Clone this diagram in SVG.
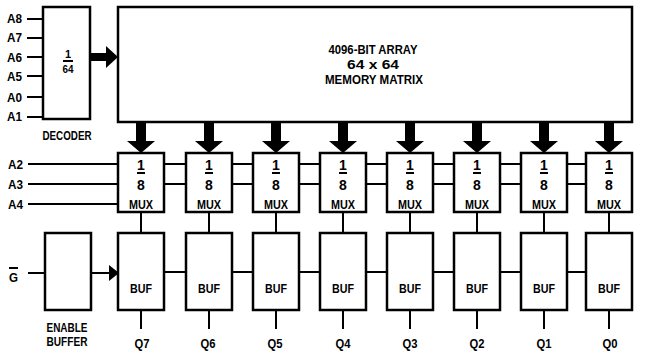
<svg xmlns="http://www.w3.org/2000/svg" width="652" height="356" viewBox="0 0 652 356">
<style>
.box{fill:#fff;stroke:#000;stroke-width:2.5}
.ln{stroke:#000;stroke-width:2;fill:none}
.ar{fill:#000;stroke:none}
text{font-family:"Liberation Sans",Arial,sans-serif;font-weight:bold;fill:#000}
.lb{font-size:13px}
.c{text-anchor:middle}
.fr{font-size:14px;text-anchor:middle}
</style>
<rect width="652" height="356" fill="#fff"/>
<g id="connectors">
<line class="ln" x1="27" y1="19" x2="43" y2="19"/>
<line class="ln" x1="27" y1="38" x2="43" y2="38"/>
<line class="ln" x1="27" y1="57" x2="43" y2="57"/>
<line class="ln" x1="27" y1="76" x2="43" y2="76"/>
<line class="ln" x1="27" y1="97" x2="43" y2="97"/>
<line class="ln" x1="27" y1="117" x2="43" y2="117"/>
<polygon class="ar" points="90,53 106,53 106,46 118,57 106,68 106,61 90,61"/>
<line class="ln" x1="28" y1="164" x2="118" y2="164"/>
<line class="ln" x1="28" y1="184" x2="118" y2="184"/>
<line class="ln" x1="28" y1="204" x2="118" y2="204"/>
<g id="mux-bus">
<path class="ln" d="M164 164H186M164 184H186M232 164H253M232 184H253M299 164H320M299 184H320M366 164H387M366 184H387M433 164H454M433 184H454M500 164H521M500 184H521M567 164H586M567 184H586"/>
</g>
<g id="down-arrows">
<polygon class="ar" points="136,122 146,122 146,141 155,141 141,153 127,141 136,141"/>
<polygon class="ar" points="204,122 214,122 214,141 223,141 209,153 195,141 204,141"/>
<polygon class="ar" points="271,122 281,122 281,141 290,141 276,153 262,141 271,141"/>
<polygon class="ar" points="338,122 348,122 348,141 357,141 343,153 329,141 338,141"/>
<polygon class="ar" points="405,122 415,122 415,141 424,141 410,153 396,141 405,141"/>
<polygon class="ar" points="472,122 482,122 482,141 491,141 477,153 463,141 472,141"/>
<polygon class="ar" points="539,122 549,122 549,141 558,141 544,153 530,141 539,141"/>
<polygon class="ar" points="604,122 614,122 614,141 623,141 609,153 595,141 604,141"/>
</g>
<path class="ln" d="M141 212V233M209 212V233M276 212V233M343 212V233M410 212V233M477 212V233M544 212V233M609 212V233"/>
<path class="ln" d="M141 310V329M209 310V329M276 310V329M343 310V329M410 310V329M477 310V329M544 310V329M609 310V329"/>
<path class="ln" d="M164 272H186M232 272H253M299 272H320M366 272H387M433 272H454M500 272H521M567 272H586"/>
<line class="ln" x1="28" y1="273" x2="45" y2="273"/>
<line class="ln" x1="91" y1="273" x2="110" y2="273"/>
<polygon class="ar" points="109,265 119,273 109,281"/>
</g>
<g id="decoder">
<rect class="box" x="43" y="7" width="47" height="112"/>
<text class="c" x="68" y="58" style="font-size:11px">1</text>
<line class="ln" x1="63" y1="61" x2="73" y2="61" stroke-width="1.5"/>
<text class="c" x="68" y="73" style="font-size:11px" textLength="11" lengthAdjust="spacingAndGlyphs">64</text>
<text class="lb c" x="67" y="140" textLength="49" lengthAdjust="spacingAndGlyphs">DECODER</text>
</g>
<g id="addr-labels">
<text class="lb" x="7" y="23" textLength="15" lengthAdjust="spacingAndGlyphs">A8</text>
<text class="lb" x="7" y="42" textLength="15" lengthAdjust="spacingAndGlyphs">A7</text>
<text class="lb" x="7" y="62" textLength="15" lengthAdjust="spacingAndGlyphs">A6</text>
<text class="lb" x="7" y="81" textLength="15" lengthAdjust="spacingAndGlyphs">A5</text>
<text class="lb" x="7" y="102" textLength="15" lengthAdjust="spacingAndGlyphs">A0</text>
<text class="lb" x="7" y="121" textLength="15" lengthAdjust="spacingAndGlyphs">A1</text>
<text class="lb" x="8" y="169" textLength="15" lengthAdjust="spacingAndGlyphs">A2</text>
<text class="lb" x="8" y="189" textLength="15" lengthAdjust="spacingAndGlyphs">A3</text>
<text class="lb" x="8" y="209" textLength="15" lengthAdjust="spacingAndGlyphs">A4</text>
</g>
<g id="array">
<rect class="box" x="118" y="7" width="514" height="115"/>
<text class="lb c" x="373" y="54" textLength="89" lengthAdjust="spacingAndGlyphs">4096-BIT ARRAY</text>
<text class="lb c" x="373" y="69" textLength="52" lengthAdjust="spacingAndGlyphs">64 x 64</text>
<text class="lb c" x="374" y="84" textLength="98" lengthAdjust="spacingAndGlyphs">MEMORY MATRIX</text>
</g>
<g id="muxes">
<g id="mux7"><rect class="box" x="118" y="153" width="46" height="59"/><text class="fr" x="141" y="170">1</text><line class="ln" x1="137" y1="173" x2="145" y2="173" stroke-width="1.5"/><text class="fr" x="141" y="190">8</text><text class="lb c" x="141" y="209" textLength="24" lengthAdjust="spacingAndGlyphs">MUX</text></g>
<g id="mux6"><rect class="box" x="186" y="153" width="46" height="59"/><text class="fr" x="209" y="170">1</text><line class="ln" x1="205" y1="173" x2="213" y2="173" stroke-width="1.5"/><text class="fr" x="209" y="190">8</text><text class="lb c" x="209" y="209" textLength="24" lengthAdjust="spacingAndGlyphs">MUX</text></g>
<g id="mux5"><rect class="box" x="253" y="153" width="46" height="59"/><text class="fr" x="276" y="170">1</text><line class="ln" x1="272" y1="173" x2="280" y2="173" stroke-width="1.5"/><text class="fr" x="276" y="190">8</text><text class="lb c" x="276" y="209" textLength="24" lengthAdjust="spacingAndGlyphs">MUX</text></g>
<g id="mux4"><rect class="box" x="320" y="153" width="46" height="59"/><text class="fr" x="343" y="170">1</text><line class="ln" x1="339" y1="173" x2="347" y2="173" stroke-width="1.5"/><text class="fr" x="343" y="190">8</text><text class="lb c" x="343" y="209" textLength="24" lengthAdjust="spacingAndGlyphs">MUX</text></g>
<g id="mux3"><rect class="box" x="387" y="153" width="46" height="59"/><text class="fr" x="410" y="170">1</text><line class="ln" x1="406" y1="173" x2="414" y2="173" stroke-width="1.5"/><text class="fr" x="410" y="190">8</text><text class="lb c" x="410" y="209" textLength="24" lengthAdjust="spacingAndGlyphs">MUX</text></g>
<g id="mux2"><rect class="box" x="454" y="153" width="46" height="59"/><text class="fr" x="477" y="170">1</text><line class="ln" x1="473" y1="173" x2="481" y2="173" stroke-width="1.5"/><text class="fr" x="477" y="190">8</text><text class="lb c" x="477" y="209" textLength="24" lengthAdjust="spacingAndGlyphs">MUX</text></g>
<g id="mux1"><rect class="box" x="521" y="153" width="46" height="59"/><text class="fr" x="544" y="170">1</text><line class="ln" x1="540" y1="173" x2="548" y2="173" stroke-width="1.5"/><text class="fr" x="544" y="190">8</text><text class="lb c" x="544" y="209" textLength="24" lengthAdjust="spacingAndGlyphs">MUX</text></g>
<g id="mux0"><rect class="box" x="586" y="153" width="46" height="59"/><text class="fr" x="609" y="170">1</text><line class="ln" x1="605" y1="173" x2="613" y2="173" stroke-width="1.5"/><text class="fr" x="609" y="190">8</text><text class="lb c" x="609" y="209" textLength="24" lengthAdjust="spacingAndGlyphs">MUX</text></g>
</g>
<g id="enable">
<rect class="box" x="45" y="233" width="46" height="77"/>
<text class="lb c" x="67" y="332" textLength="41" lengthAdjust="spacingAndGlyphs">ENABLE</text>
<text class="lb c" x="67" y="346" textLength="41" lengthAdjust="spacingAndGlyphs">BUFFER</text>
<text class="lb" x="9" y="282" textLength="9" lengthAdjust="spacingAndGlyphs">G</text>
<line class="ln" x1="9" y1="268" x2="18" y2="268" stroke-width="1.5"/>
</g>
<g id="bufs">
<g id="buf7"><rect class="box" x="118" y="233" width="46" height="77"/><text class="lb c" x="141" y="293" textLength="22" lengthAdjust="spacingAndGlyphs">BUF</text><text class="lb c" x="142" y="348" textLength="15" lengthAdjust="spacingAndGlyphs">Q7</text></g>
<g id="buf6"><rect class="box" x="186" y="233" width="46" height="77"/><text class="lb c" x="209" y="293" textLength="22" lengthAdjust="spacingAndGlyphs">BUF</text><text class="lb c" x="208" y="348" textLength="15" lengthAdjust="spacingAndGlyphs">Q6</text></g>
<g id="buf5"><rect class="box" x="253" y="233" width="46" height="77"/><text class="lb c" x="276" y="293" textLength="22" lengthAdjust="spacingAndGlyphs">BUF</text><text class="lb c" x="275" y="348" textLength="15" lengthAdjust="spacingAndGlyphs">Q5</text></g>
<g id="buf4"><rect class="box" x="320" y="233" width="46" height="77"/><text class="lb c" x="343" y="293" textLength="22" lengthAdjust="spacingAndGlyphs">BUF</text><text class="lb c" x="343" y="348" textLength="15" lengthAdjust="spacingAndGlyphs">Q4</text></g>
<g id="buf3"><rect class="box" x="387" y="233" width="46" height="77"/><text class="lb c" x="410" y="293" textLength="22" lengthAdjust="spacingAndGlyphs">BUF</text><text class="lb c" x="410" y="348" textLength="15" lengthAdjust="spacingAndGlyphs">Q3</text></g>
<g id="buf2"><rect class="box" x="454" y="233" width="46" height="77"/><text class="lb c" x="477" y="293" textLength="22" lengthAdjust="spacingAndGlyphs">BUF</text><text class="lb c" x="477" y="348" textLength="15" lengthAdjust="spacingAndGlyphs">Q2</text></g>
<g id="buf1"><rect class="box" x="521" y="233" width="46" height="77"/><text class="lb c" x="544" y="293" textLength="22" lengthAdjust="spacingAndGlyphs">BUF</text><text class="lb c" x="544" y="348" textLength="15" lengthAdjust="spacingAndGlyphs">Q1</text></g>
<g id="buf0"><rect class="box" x="586" y="233" width="46" height="77"/><text class="lb c" x="609" y="293" textLength="22" lengthAdjust="spacingAndGlyphs">BUF</text><text class="lb c" x="610" y="348" textLength="15" lengthAdjust="spacingAndGlyphs">Q0</text></g>
</g>
</svg>
